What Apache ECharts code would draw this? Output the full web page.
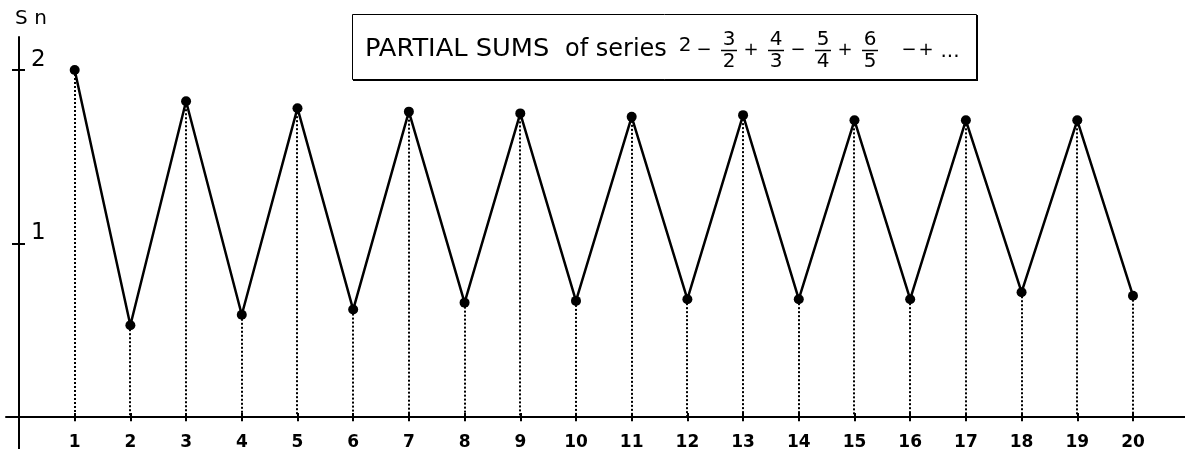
<!DOCTYPE html>
<html>
<head>
<meta charset="utf-8">
<script src="https://cdn.jsdelivr.net/npm/echarts@6/dist/echarts.min.js"></script>
<style>
  html, body { margin: 0; padding: 0; background: #fff; }
  #chart { width: 1185px; height: 449px; }
</style>
</head>
<body>
<div id="chart"></div>
<script>
// Term index n and partial sums S(n) of 2 - 3/2 + 4/3 - 5/4 + ...
const termIndex = [1, 2, 3, 4, 5, 6, 7, 8, 9, 10, 11, 12, 13, 14, 15, 16, 17, 18, 19, 20];
const partialSums = [2.00, 0.53, 1.82, 0.59, 1.78, 0.62, 1.76, 0.66, 1.75, 0.67,
                     1.73, 0.68, 1.74, 0.68, 1.71, 0.68, 1.71, 0.72, 1.71, 0.70];
const xTickValues = termIndex;
const yTickValues = [1, 2];

// Title formula pieces
const titleWords = 'PARTIAL SUMS';
const titleLead = 'of series';
const firstTerm = '2';
const fracSigns = ['\u2212', '+', '\u2212', '+'];
const numerators = ['3', '4', '5', '6'];
const denominators = ['2', '3', '4', '5'];
const tailSigns = ['\u2212', '+'];

const BLACK = '#000';
const FAMILY = '"DejaVu Sans", Verdana, sans-serif';

const points = termIndex.map((n, i) => [n, partialSums[i]]);

function txt(x, y, text, size, align, vAlign, extra) {
  return Object.assign({
    type: 'text', x: x, y: y,
    style: { text: text, fontSize: size, fontFamily: FAMILY, fill: BLACK,
             textAlign: align, textVerticalAlign: vAlign }
  }, extra || {});
}

// Boxed title with stacked fractions
function buildTitle() {
  const els = [];
  els.push({ type: 'rect', shape: { x: 353, y: 15, width: 625, height: 66 }, style: { fill: BLACK } });
  els.push({ type: 'rect', shape: { x: 352.5, y: 14.5, width: 624, height: 65 },
             style: { fill: '#fff', stroke: BLACK, lineWidth: 1 } });
  const midY = 50;
  els.push(txt(365, 62, titleWords, 24, 'left', 'bottom', { scaleX: 1.07, originX: 0, originY: 0 }));
  els.push(txt(565, 62, titleLead, 24, 'left', 'bottom'));
  els.push(txt(685, 56, firstTerm, 20, 'center', 'bottom'));
  const step = 47;
  numerators.forEach((num, i) => {
    const cx = 729 + i * step;
    els.push(txt(cx - 25, midY, fracSigns[i], 18, 'center', 'middle'));
    els.push(txt(cx, 40, num, 20, 'center', 'middle'));
    els.push({ type: 'line', shape: { x1: cx - 8, y1: midY + 0.5, x2: cx + 8, y2: midY + 0.5 },
               style: { stroke: BLACK, lineWidth: 1.5 } });
    els.push(txt(cx, 62, denominators[i], 20, 'center', 'middle'));
  });
  tailSigns.forEach((s, i) => {
    els.push(txt(909 + i * 17, midY, s, 18, 'center', 'middle'));
  });
  els.push(txt(950, 62, '...', 20, 'center', 'bottom'));
  return els;
}

const chart = echarts.init(document.getElementById('chart'), null, { renderer: 'canvas' });

// grid 0 spans the whole plot and carries the crossing axis lines;
// grid 1 starts at the origin and carries the tick labels
const axisLineBase = { color: BLACK, width: 2 };
chart.setOption({
  animation: false,
  backgroundColor: '#fff',
  grid: [
    { left: 6, right: 0, top: 37, bottom: 0, containLabel: false, outerBoundsMode: 'none' },
    { left: 19, right: 0, top: 37, bottom: 32, containLabel: false, outerBoundsMode: 'none' }
  ],
  xAxis: [
    {
      type: 'value', gridIndex: 0, min: -0.233, max: 20.934,
      axisLine: { show: true, onZero: true, onZeroAxisIndex: 0, lineStyle: axisLineBase },
      axisTick: { show: true, inside: false, length: 4, customValues: xTickValues, lineStyle: axisLineBase },
      axisLabel: { show: false },
      splitLine: { show: false }
    },
    {
      type: 'value', gridIndex: 1, min: 0, max: 20.934, position: 'bottom',
      axisLine: { show: false, onZero: false },
      axisTick: { show: true, inside: true, length: 4, customValues: xTickValues, lineStyle: axisLineBase },
      axisLabel: { show: true, customValues: xTickValues, margin: 17, color: BLACK,
                   fontFamily: FAMILY, fontWeight: 'bold', fontSize: 17 },
      splitLine: { show: false }
    }
  ],
  yAxis: [
    {
      type: 'value', gridIndex: 0, min: -0.183, max: 2.19,
      name: 'S n', nameLocation: 'end', nameGap: 8,
      nameTextStyle: { color: BLACK, fontFamily: FAMILY, fontSize: 20, padding: [0, 0, 0, 24] },
      axisLine: { show: true, onZero: true, onZeroAxisIndex: 0, lineStyle: axisLineBase },
      axisTick: { show: true, inside: false, length: 7, customValues: yTickValues, lineStyle: axisLineBase },
      axisLabel: { show: false },
      splitLine: { show: false }
    },
    {
      type: 'value', gridIndex: 1, min: 0, max: 2.19, position: 'left',
      axisLine: { show: false, onZero: false },
      axisTick: { show: true, inside: true, length: 6, customValues: yTickValues, lineStyle: axisLineBase },
      axisLabel: { show: true, inside: true, customValues: yTickValues, margin: 12, color: BLACK,
                   fontFamily: FAMILY, fontSize: 23, verticalAlign: 'bottom', lineHeight: 20 },
      splitLine: { show: false }
    }
  ],
  graphic: buildTitle(),
  series: [
    {
      // dotted drop lines from each partial sum down to the n axis
      type: 'custom',
      xAxisIndex: 0, yAxisIndex: 0,
      data: points,
      z: 1,
      renderItem: function (params, api) {
        const top = api.coord([api.value(0), api.value(1)]);
        const base = api.coord([api.value(0), 0]);
        const x = Math.round(top[0]);
        return {
          type: 'line',
          shape: { x1: x, y1: top[1], x2: x, y2: base[1] },
          style: { stroke: BLACK, lineWidth: 2, lineDash: [2, 2] }
        };
      }
    },
    {
      type: 'line',
      xAxisIndex: 0, yAxisIndex: 0,
      data: points,
      z: 3,
      symbol: 'circle',
      symbolSize: 10,
      itemStyle: { color: BLACK },
      lineStyle: { color: BLACK, width: 2.5 }
    }
  ]
});
</script>
</body>
</html>
